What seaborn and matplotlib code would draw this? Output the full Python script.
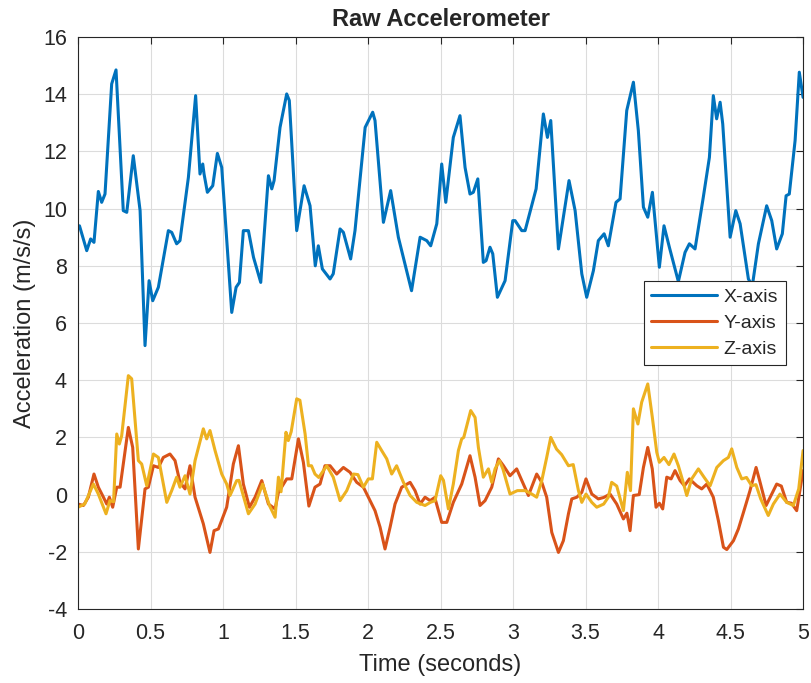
import pandas as pd
import seaborn as sns
import matplotlib
matplotlib.use("Agg")
import matplotlib.pyplot as plt

# values (seconds, m/s/s)
time_x = [0.0, 0.01, 0.06, 0.087, 0.11, 0.14, 0.163, 0.186, 0.232, 0.262,
          0.312, 0.336, 0.381, 0.428, 0.462, 0.49, 0.515, 0.554, 0.623, 0.646,
          0.68, 0.703, 0.761, 0.811, 0.841, 0.86, 0.869, 0.892, 0.929, 0.961,
          0.991, 1.06, 1.09, 1.113, 1.14, 1.175, 1.21, 1.26, 1.313, 1.336,
          1.352, 1.393, 1.439, 1.457, 1.508, 1.559, 1.6, 1.636, 1.657, 1.685,
          1.738, 1.76, 1.807, 1.83, 1.88, 1.91, 1.98, 2.032, 2.048, 2.106,
          2.156, 2.209, 2.3, 2.359, 2.405, 2.432, 2.474, 2.508, 2.536, 2.588,
          2.634, 2.669, 2.703, 2.726, 2.757, 2.795, 2.814, 2.841, 2.86, 2.892,
          2.945, 2.998, 3.014, 3.06, 3.083, 3.159, 3.209, 3.237, 3.26, 3.313,
          3.386, 3.428, 3.474, 3.508, 3.554, 3.588, 3.628, 3.657, 3.71, 3.738,
          3.784, 3.83, 3.864, 3.899, 3.929, 3.961, 4.009, 4.041, 4.078, 4.14,
          4.186, 4.216, 4.255, 4.312, 4.354, 4.381, 4.404, 4.428, 4.446, 4.497,
          4.536, 4.566, 4.623, 4.65, 4.692, 4.749, 4.784, 4.818, 4.857, 4.883,
          4.905, 4.945, 4.974, 5.0]
acc_x = [9.35, 9.4, 8.53, 8.94, 8.82, 10.6, 10.22, 10.51, 14.36, 14.85,
         9.93, 9.87, 11.85, 9.93, 5.21, 7.48, 6.78, 7.25, 9.23, 9.17,
         8.77, 8.88, 11.09, 13.95, 11.21, 11.56, 11.21, 10.57, 10.8, 11.93,
         11.44, 6.37, 7.25, 7.42, 9.23, 9.23, 8.3, 7.42, 11.15, 10.69,
         10.98, 12.84, 14.01, 13.78, 9.23, 10.8, 10.1, 8.0, 8.7, 7.89,
         7.54, 7.72, 9.29, 9.17, 8.24, 9.23, 12.84, 13.37, 13.08, 9.52,
         10.63, 9.0, 7.13, 9.0, 8.88, 8.7, 9.47, 11.56, 10.22, 12.49,
         13.25, 11.44, 10.51, 10.57, 11.04, 8.12, 8.18, 8.65, 8.42, 6.9,
         7.48, 9.58, 9.58, 9.23, 9.23, 10.69, 13.31, 12.49, 13.08, 8.59,
         10.98, 9.93, 7.72, 6.9, 7.83, 8.88, 9.12, 8.7, 10.22, 10.34,
         13.43, 14.42, 12.73, 10.05, 9.7, 10.57, 7.95, 9.4, 8.65, 7.45,
         8.47, 8.77, 8.59, 10.4, 11.79, 13.95, 13.14, 13.72, 12.96, 9.0,
         9.93, 9.47, 7.54, 7.3, 8.77, 10.1, 9.58, 8.59, 9.12, 10.45,
         10.51, 12.38, 14.77, 13.89]

time_y = [0.0, 0.037, 0.071, 0.11, 0.14, 0.175, 0.198, 0.216, 0.239, 0.267,
          0.29, 0.347, 0.377, 0.416, 0.462, 0.485, 0.52, 0.554, 0.588, 0.634,
          0.669, 0.703, 0.738, 0.772, 0.807, 0.864, 0.91, 0.938, 0.968, 1.025,
          1.071, 1.106, 1.14, 1.182, 1.221, 1.267, 1.313, 1.359, 1.382, 1.439,
          1.474, 1.52, 1.554, 1.592, 1.634, 1.669, 1.703, 1.738, 1.784, 1.83,
          1.876, 1.922, 1.968, 2.002, 2.048, 2.083, 2.117, 2.152, 2.186, 2.232,
          2.29, 2.324, 2.359, 2.393, 2.428, 2.46, 2.508, 2.543, 2.588, 2.646,
          2.703, 2.738, 2.772, 2.807, 2.853, 2.899, 2.934, 2.979, 3.025, 3.071,
          3.106, 3.163, 3.198, 3.232, 3.267, 3.313, 3.347, 3.382, 3.405, 3.44,
          3.474, 3.503, 3.543, 3.588, 3.625, 3.669, 3.715, 3.761, 3.785, 3.807,
          3.83, 3.87, 3.899, 3.929, 3.96, 3.986, 4.009, 4.032, 4.06, 4.09,
          4.117, 4.152, 4.182, 4.216, 4.267, 4.301, 4.336, 4.381, 4.416, 4.451,
          4.474, 4.52, 4.554, 4.589, 4.634, 4.676, 4.7, 4.745, 4.784, 4.818,
          4.85, 4.887, 4.92, 4.956, 5.0]
acc_y = [-0.33, -0.38, -0.09, 0.72, 0.26, -0.09, -0.33, -0.09, -0.44, 0.26,
         0.26, 2.35, 1.65, -1.9, 0.2, 0.26, 1.01, 0.95, 1.3, 1.42,
         1.19, 0.43, 0.2, 1.01, -0.09, -1.02, -2.02, -1.26, -1.2, -0.44,
         1.07, 1.71, 0.37, -0.44, -0.09, 0.49, -0.33, -0.5, 0.08, 0.55,
         0.55, 1.95, 1.13, -0.4, 0.26, 0.37, 1.01, 1.01, 0.72, 0.95,
         0.78, 0.43, 0.26, -0.09, -0.56, -1.14, -1.9, -1.14, -0.33, 0.26,
         0.43, 0.14, -0.33, -0.09, -0.21, -0.1, -0.97, -0.97, -0.27, 0.37,
         1.36, 0.61, -0.38, -0.21, 0.26, 1.25, 1.01, 0.66, 0.9, 0.37,
         -0.03, 0.72, 0.43, -0.09, -1.32, -2.02, -1.61, -0.67, -0.15, -0.09,
         0.08, 0.55, 0.02, -0.15, -0.1, 0.02, -0.33, -0.85, -0.65, -1.26,
         -0.03, 0.0, 0.95, 1.65, 0.9, -0.44, -0.3, -0.5, 0.61, 0.55,
         0.84, 0.49, 0.31, 0.55, 0.31, 0.2, 0.37, -0.09, -0.91, -1.84,
         -1.92, -1.61, -1.2, -0.62, 0.14, 0.95, 0.5, -0.38, 0.02, 0.37,
         0.3, -0.27, -0.3, -0.56, 0.84]

time_z = [0.0, 0.046, 0.106, 0.14, 0.175, 0.193, 0.22, 0.245, 0.267, 0.285,
          0.301, 0.347, 0.37, 0.416, 0.439, 0.474, 0.52, 0.554, 0.612, 0.646,
          0.68, 0.703, 0.738, 0.772, 0.807, 0.864, 0.887, 0.91, 0.945, 0.991,
          1.025, 1.048, 1.094, 1.11, 1.175, 1.221, 1.273, 1.32, 1.359, 1.382,
          1.4, 1.434, 1.45, 1.47, 1.508, 1.53, 1.566, 1.589, 1.61, 1.634,
          1.66, 1.715, 1.76, 1.807, 1.853, 1.899, 1.93, 1.968, 2.002, 2.03,
          2.06, 2.094, 2.129, 2.163, 2.197, 2.244, 2.29, 2.336, 2.393, 2.43,
          2.462, 2.501, 2.52, 2.554, 2.588, 2.623, 2.646, 2.66, 2.708, 2.738,
          2.761, 2.795, 2.83, 2.853, 2.876, 2.906, 2.93, 2.979, 3.03, 3.083,
          3.129, 3.163, 3.198, 3.232, 3.26, 3.3, 3.335, 3.382, 3.415, 3.451,
          3.474, 3.503, 3.543, 3.577, 3.625, 3.657, 3.68, 3.715, 3.761, 3.788,
          3.81, 3.83, 3.861, 3.887, 3.929, 3.96, 3.991, 4.009, 4.041, 4.075,
          4.11, 4.14, 4.17, 4.198, 4.232, 4.278, 4.317, 4.359, 4.405, 4.451,
          4.485, 4.508, 4.543, 4.577, 4.61, 4.646, 4.675, 4.708, 4.76, 4.795,
          4.841, 4.887, 4.933, 4.97, 5.0]
acc_z = [-0.44, -0.33, 0.37, 0.02, -0.44, -0.67, -0.21, -0.25, 2.12, 1.77,
         2.06, 4.16, 4.05, 1.19, 1.07, 0.31, 1.42, 1.3, -0.27, 0.14,
         0.61, 0.26, 0.66, 0.02, 1.19, 2.3, 1.95, 2.24, 1.54, 0.72,
         0.37, -0.03, 0.49, 0.5, -0.67, -0.33, 0.37, -0.38, -0.79, 0.61,
         0.1, 2.18, 1.89, 2.2, 3.35, 3.3, 2.12, 1.01, 1.01, 0.72,
         0.6, 1.01, 0.61, -0.21, 0.14, 0.72, 0.7, 0.26, 0.55, 0.55,
         1.83, 1.54, 1.25, 0.72, 1.01, 0.43, -0.03, -0.27, -0.38, -0.27,
         -0.21, 0.66, 0.5, -0.5, 0.37, 1.54, 1.95, 2.0, 2.94, 2.7,
         1.65, 0.61, 0.9, 0.43, 0.9, 1.19, 0.9, 0.02, 0.14, 0.14,
         0.02, -0.09, 0.49, 1.3, 2.0, 1.59, 1.4, 1.01, 1.05, 0.14,
         -0.27, 0.02, -0.27, -0.44, -0.33, -0.09, 0.43, 0.3, -0.56, 0.78,
         0.14, 3.0, 2.47, 3.23, 3.87, 2.72, 1.48, 1.13, 1.3, 1.05,
         1.42, 1.01, 0.49, -0.03, 0.55, 0.9, 0.61, 0.31, 0.95, 1.19,
         1.3, 1.6, 0.95, 0.55, 0.6, 0.31, 0.35, -0.15, -0.73, -0.33,
         0.02, -0.27, -0.38, 0.2, 1.54]

series_names = ["X-axis", "Y-axis", "Z-axis"]
series_colors = ["#0072BD", "#D95319", "#EDB120"]

assert len(time_x) == len(acc_x)
assert len(time_y) == len(acc_y)
assert len(time_z) == len(acc_z)

df = pd.concat([
    pd.DataFrame({"time": time_x, "acc": acc_x, "axis": "X-axis"}),
    pd.DataFrame({"time": time_y, "acc": acc_y, "axis": "Y-axis"}),
    pd.DataFrame({"time": time_z, "acc": acc_z, "axis": "Z-axis"}),
])

sns.set_style("whitegrid", {"grid.color": "#dcdcdc", "axes.edgecolor": "#262626"})
plt.rcParams["font.family"] = ["Liberation Sans", "DejaVu Sans"]
plt.rcParams["axes.unicode_minus"] = False
plt.rcParams["lines.solid_joinstyle"] = "round"

fig = plt.figure(figsize=(8.12, 6.83), dpi=100)
ax = fig.add_axes([0.0961, 0.1083, 0.8929, 0.8375])

for name, col in zip(series_names, series_colors):
    sns.lineplot(data=df[df["axis"] == name], x="time", y="acc", color=col,
                 linewidth=2.2, estimator=None, sort=False, label=name, ax=ax)

ax.set_xlim(0, 5)
ax.set_ylim(-4, 16)
ax.set_xticks([0, 0.5, 1, 1.5, 2, 2.5, 3, 3.5, 4, 4.5, 5])
ax.set_xticklabels(["0", "0.5", "1", "1.5", "2", "2.5", "3", "3.5", "4", "4.5", "5"])
ax.set_yticks(range(-4, 17, 2))

for sp in ax.spines.values():
    sp.set_visible(True)
    sp.set_color("#262626")
    sp.set_linewidth(0.8)
ax.grid(True, color="#dcdcdc", linewidth=0.8)
ax.tick_params(direction="in", top=True, right=True, length=5, width=0.8,
               color="#262626", labelcolor="#262626", labelsize=15.5)
ax.tick_params(axis="x", pad=10)
ax.tick_params(axis="y", pad=8)

ax.set_title("Raw Accelerometer", fontsize=17, fontweight="bold", pad=8)
ax.set_xlabel("Time (seconds)", fontsize=17, color="#262626", labelpad=7)
ax.set_ylabel("Acceleration (m/s/s)", fontsize=17, color="#262626", labelpad=5)

leg = ax.legend(loc="center right", fontsize=14, frameon=True, fancybox=False,
                framealpha=1, edgecolor="#262626", borderaxespad=0.9,
                handlelength=3.4, handletextpad=0.3, labelspacing=0.42,
                borderpad=0.4)
leg.get_frame().set_linewidth(0.8)

plt.savefig("out.png", dpi=100)
